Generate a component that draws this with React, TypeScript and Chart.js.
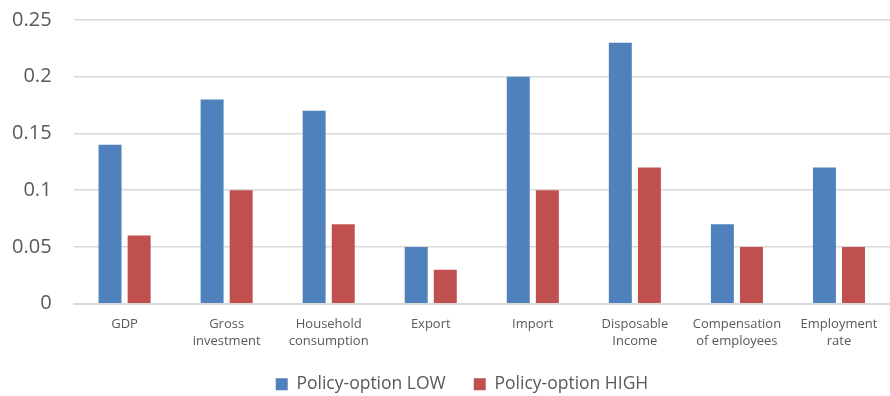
import React, { useEffect, useRef } from "react";
import { Chart, registerables } from "chart.js";

Chart.register(...registerables);

const categories: string[][] = [
  ["GDP"],
  ["Gross", "investment"],
  ["Household", "consumption"],
  ["Export"],
  ["Import"],
  ["Disposable", "Income"],
  ["Compensation", "of employees"],
  ["Employment", "rate"],
];
const lowValues = [0.14, 0.18, 0.17, 0.05, 0.2, 0.23, 0.07, 0.12];
const highValues = [0.06, 0.1, 0.07, 0.03, 0.1, 0.12, 0.05, 0.05];
const yTicks = [0, 0.05, 0.1, 0.15, 0.2, 0.25];

const FONT = "'Open Sans', 'Noto Sans', sans-serif";

const legendShift = {
  id: "legendShift",
  afterLayout(chart: any) {
    const lg = chart.legend;
    if (lg) {
      lg.left += 12;
      lg.right += 12;
      lg.top -= 6;
      lg.bottom -= 6;
    }
  },
};

export default function App() {
  const ref = useRef<HTMLCanvasElement | null>(null);
  useEffect(() => {
    if (!ref.current) return;
    const chart = new Chart(ref.current, {
      type: "bar",
      data: {
        labels: categories,
        datasets: [
          {
            label: "Policy-option LOW",
            data: lowValues,
            backgroundColor: "#4f81bd",
            barPercentage: 0.79,
            categoryPercentage: 0.57,
          },
          {
            label: "Policy-option HIGH",
            data: highValues,
            backgroundColor: "#c0504d",
            barPercentage: 0.79,
            categoryPercentage: 0.57,
          },
        ],
      },
      plugins: [legendShift],
      options: {
        animation: false,
        responsive: false,
        maintainAspectRatio: false,
        layout: { padding: { top: 20, right: 0, left: 10, bottom: 0 } },
        plugins: {
          legend: {
            position: "bottom",
            labels: {
              boxWidth: 12,
              boxHeight: 12,
              padding: 28,
              color: "#595959",
              font: { family: FONT, size: 17.5 },
            },
          },
          tooltip: { enabled: false },
        },
        scales: {
          x: {
            grid: { display: false },
            border: { color: "#d9d9d9", width: 2 },
            ticks: {
              color: "#595959",
              font: { family: FONT, size: 13, lineHeight: 1.3 },
              maxRotation: 0,
              autoSkip: false,
              padding: 4,
            },
          },
          y: {
            min: 0,
            max: 0.25,
            afterBuildTicks: (axis: any) => {
              axis.ticks = yTicks.map((v) => ({ value: v }));
            },
            grid: {
              color: "#d9d9d9",
              lineWidth: 1.5,
              drawTicks: true,
              tickLength: 20,
              tickColor: "rgba(0,0,0,0)",
            },
            border: { display: false },
            ticks: {
              color: "#595959",
              font: { family: FONT, size: 20 },
              padding: 2,
              callback: (v: any) => String(Number(v)),
            },
          },
        },
      },
    });
    return () => chart.destroy();
  }, []);
  return (
    <div style={{ position: "absolute", left: 0, top: 0, width: 890, height: 396, overflow: "hidden", background: "#fff" }}>
      <canvas ref={ref} width={890} height={409} />
    </div>
  );
}
